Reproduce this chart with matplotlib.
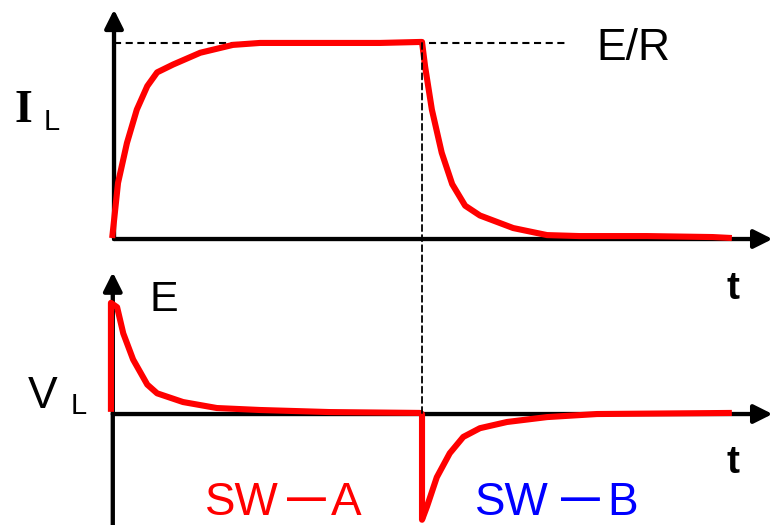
import numpy as np
import matplotlib
matplotlib.use('Agg')
import matplotlib.pyplot as plt
from matplotlib.patches import ConnectionPatch

plt.rcParams['font.family'] = ['Liberation Sans', 'DejaVu Sans']

# switch moves from A to B at t = 5 (arbitrary time units)
t_switch = 5.0

# inductor current I_L, normalised to E/R
t_il = [-0.03, 0.065, 0.21, 0.37, 0.54, 0.70, 0.96, 1.40, 1.93, 2.37, 3.34, 4.32, 4.97,
        5.0, 5.05, 5.16, 5.32, 5.49, 5.70, 5.94, 6.48, 7.03, 7.56, 8.65, 9.72, 10.03]
il = [0.005, 0.286, 0.49, 0.66, 0.78, 0.85, 0.89, 0.95, 0.99, 1.0, 1.0, 1.0, 1.005,
      1.005, 0.88, 0.66, 0.44, 0.28, 0.17, 0.12, 0.056, 0.02, 0.015, 0.015, 0.01, 0.005]

# inductor voltage V_L, normalised to E
t_vl = [-0.05, -0.05, 0.05, 0.15, 0.31, 0.54, 0.70, 1.12, 1.67, 2.37, 3.5, 4.97,
        5.0, 5.0, 5.08, 5.24, 5.45, 5.67, 5.94, 6.38, 7.03, 7.84, 10.03]
vl = [0.02, 1.02, 0.98, 0.74, 0.50, 0.27, 0.19, 0.11, 0.055, 0.037, 0.018, 0.01,
      0.0, -0.97, -0.85, -0.58, -0.36, -0.21, -0.13, -0.073, -0.028, 0.0, 0.01]

# switch labels: (left part, right part, colour)
switches = [('SW', 'A', '#ff0000'), ('SW', 'B', '#0000ff')]

W, H = 773, 525
fig = plt.figure(figsize=(W / 100, H / 100), dpi=100)
ax1 = fig.add_axes([0, 265 / H, 1, 260 / H])
ax2 = fig.add_axes([0, 0, 1, 265 / H])

xlim = (-1.851, 10.698)
ax1.set_xlim(*xlim)
ax1.set_ylim(-0.107, 1.219)
ax2.set_xlim(*xlim)
ax2.set_ylim(-1.018, 1.413)
for a in (ax1, ax2):
    a.axis('off')

arrow = dict(arrowstyle='-|>', lw=3.1, color='k', mutation_scale=28, shrinkA=0, shrinkB=0)
dash = (0, (3.4, 2.2))
red = dict(color='#ff0000', lw=4.4, solid_joinstyle='round', solid_capstyle='butt', zorder=3)

# top panel
ax1.annotate('', xy=(0.0, 1.17), xytext=(0.0, 0.0), arrowprops=arrow, annotation_clip=False)
ax1.annotate('', xy=(10.69, 0.0), xytext=(0.0, 0.0), arrowprops=arrow, annotation_clip=False)
ax1.plot([0.0, 7.38], [1.0, 1.0], color='k', lw=1.5, ls=dash)
ax1.plot(t_il, il, **red)

# bottom panel
ax2.annotate('', xy=(-0.02, 1.30), xytext=(-0.02, -1.1), arrowprops=arrow, annotation_clip=False)
ax2.annotate('', xy=(10.69, 0.0), xytext=(-0.02, 0.0), arrowprops=arrow, annotation_clip=False)
ax2.plot(t_vl, vl, **red)

# dashed marker at the switching instant, across both panels
con = ConnectionPatch(xyA=(t_switch, 1.0), coordsA=ax1.transData,
                      xyB=(t_switch, 0.0), coordsB=ax2.transData,
                      color='k', lw=1.3, ls=dash, zorder=1)
fig.add_artist(con)

# labels
fig.text(23 / W, 1 - 111 / H, 'I', fontsize=33, fontweight='bold', family='Liberation Serif',
         ha='center', va='center')
fig.text(52 / W, 1 - 122 / H, 'L', fontsize=21, ha='center', va='center')
fig.text(633 / W, 1 - 49 / H, 'E/R', fontsize=32, ha='center', va='center')
fig.text(733 / W, 1 - 289 / H, 't', fontsize=28, fontweight='bold', ha='center', va='center')
fig.text(164 / W, 1 - 300 / H, 'E', fontsize=31, ha='center', va='center')
fig.text(43 / W, 1 - 397 / H, 'V', fontsize=32, ha='center', va='center')
fig.text(79 / W, 1 - 406 / H, 'L', fontsize=21, ha='center', va='center')
fig.text(733 / W, 1 - 463 / H, 't', fontsize=28, fontweight='bold', ha='center', va='center')

# SW-A / SW-B built from three pieces so the long dash matches
sw_x = [(279, 306, 331), (549, 580, 607)]
for (left, right, col), (xl, xd, xr) in zip(switches, sw_x):
    fig.text(xl / W, 1 - 515 / H, left, fontsize=33, color=col, ha='right', va='baseline')
    fig.text(xd / W, 1 - 510 / H, '\u2014', fontsize=28, fontweight='bold', color=col,
             ha='center', va='baseline')
    fig.text(xr / W, 1 - 515 / H, right, fontsize=33, color=col, ha='left', va='baseline')

fig.savefig('out.png', dpi=100)
